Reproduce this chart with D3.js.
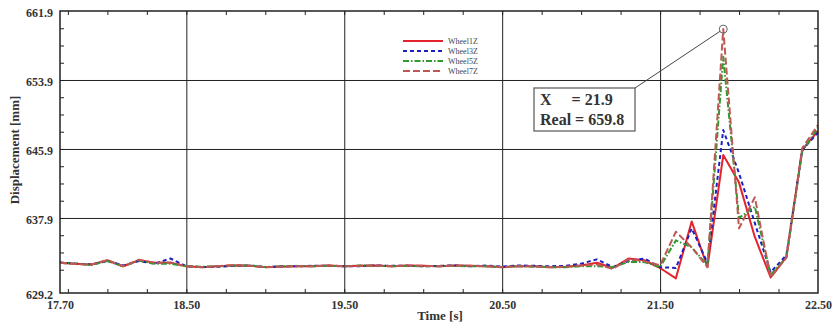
<!DOCTYPE html>
<html><head><meta charset="utf-8">
<script src="https://cdn.jsdelivr.net/npm/d3@7"></script>
<style>
html,body{margin:0;padding:0;background:#fff;}
svg{display:block;}
text{font-family:"Liberation Serif","Times New Roman",serif;}
</style></head>
<body>
<svg id="chart" width="833" height="324"></svg>
<script>
// ---- data ----
const time = [17.7,17.8,17.9,18.0,18.1,18.2,18.3,18.4,18.5,18.6,18.7,18.8,18.9,19.0,19.1,19.2,19.3,19.4,19.5,19.6,19.7,19.8,19.9,20.0,20.1,20.2,20.3,20.4,20.5,20.6,20.7,20.8,20.9,21.0,21.1,21.2,21.3,21.4,21.5,21.6,21.7,21.8,21.9,22.0,22.1,22.2,22.3,22.4,22.5];
const wheel1Z = [632.7,632.6,632.5,633.0,632.3,633.0,632.7,632.7,632.3,632.2,632.3,632.4,632.35,632.2,632.25,632.3,632.3,632.4,632.3,632.35,632.4,632.3,632.4,632.35,632.3,632.4,632.35,632.3,632.2,632.3,632.3,632.2,632.25,632.4,632.7,632.1,633.2,633.0,632.1,630.9,637.5,632.2,645.2,642.0,635.7,631.0,633.4,645.8,648.0];
const wheel3Z = [632.75,632.6,632.5,632.9,632.4,632.9,632.6,633.2,632.3,632.2,632.25,632.35,632.4,632.2,632.3,632.3,632.35,632.35,632.3,632.3,632.4,632.35,632.35,632.3,632.35,632.4,632.3,632.4,632.25,632.4,632.35,632.3,632.35,632.6,633.1,632.2,632.9,633.2,632.2,632.1,636.7,632.7,648.1,643.1,637.3,631.6,633.6,645.8,647.8];
const wheel5Z = [632.7,632.6,632.45,632.9,632.3,632.95,632.6,632.6,632.3,632.25,632.3,632.4,632.4,632.2,632.3,632.35,632.3,632.35,632.3,632.4,632.35,632.3,632.35,632.3,632.3,632.35,632.3,632.3,632.2,632.3,632.25,632.2,632.2,632.3,632.3,632.2,632.8,632.8,632.2,635.3,634.5,632.4,656.6,637.9,639.2,631.3,633.3,645.6,648.4];
const wheel7Z = [632.7,632.55,632.5,633.0,632.3,633.05,632.7,632.75,632.3,632.2,632.3,632.45,632.35,632.2,632.25,632.3,632.3,632.4,632.3,632.35,632.4,632.3,632.4,632.35,632.3,632.4,632.35,632.3,632.2,632.3,632.3,632.2,632.25,632.4,632.5,632.0,633.1,632.9,632.4,636.3,634.5,632.2,659.8,636.7,640.3,631.0,633.3,646.0,648.7];
const seriesNames = ["Wheel1Z","Wheel3Z","Wheel5Z","Wheel7Z"];
const xLabelTicks = [17.70,18.50,19.50,20.50,21.50,22.50];
const xGridTicks = [18.5,19.5,20.5,21.5];
const xMinorTicks = [17.75,18.0,18.25,18.5,18.75,19.0,19.25,19.5,19.75,20.0,20.25,20.5,20.75,21.0,21.25,21.5,21.75,22.0,22.25];
const yLabelTicks = [629.2,637.9,645.9,653.9,661.9];
const yGridTicks = [637.9,645.9,653.9];
const yMinorTicks = [631.9,633.9,635.9,637.9,639.9,641.9,643.9,645.9,647.9,649.9,651.9,653.9,655.9,657.9,659.9];
const tipX = 21.9, tipReal = 659.8;

// ---- styles ----
const styles = [
  {color:"#e3242b", dash:null, w:2},
  {color:"#1f1fbf", dash:"4,3", w:2},
  {color:"#2f9a2f", dash:"6,2,1.5,2", w:2},
  {color:"#bf5855", dash:"7,3", w:2}
];
const seriesData = [wheel1Z, wheel3Z, wheel5Z, wheel7Z];

const L=60, R=818, T=11, B=293;
const svg = d3.select("#chart");
const x = d3.scaleLinear().domain([17.7,22.5]).range([L,R]);
const y = d3.scaleLinear().domain([629.2,661.9]).range([B,T]);

// grid
svg.append("g").attr("transform",`translate(0,${B})`)
  .call(d3.axisBottom(x).tickValues(xGridTicks).tickSize(-(B-T)).tickFormat(""))
  .call(g=>{g.select(".domain").remove(); g.selectAll("line").attr("stroke","#222").attr("stroke-width",1);});
svg.append("g").attr("transform",`translate(${L},0)`)
  .call(d3.axisLeft(y).tickValues(yGridTicks).tickSize(-(R-L)).tickFormat(""))
  .call(g=>{g.select(".domain").remove(); g.selectAll("line").attr("stroke","#222").attr("stroke-width",1);});

// minor ticks (inward, all sides)
function styleTicks(g){g.select(".domain").remove(); g.selectAll("line").attr("stroke","#222").attr("stroke-width",1);}
svg.append("g").attr("transform",`translate(0,${B})`).call(d3.axisBottom(x).tickValues(xMinorTicks).tickSize(-4).tickFormat("")).call(styleTicks);
svg.append("g").attr("transform",`translate(0,${T})`).call(d3.axisTop(x).tickValues(xMinorTicks).tickSize(-4).tickFormat("")).call(styleTicks);
svg.append("g").attr("transform",`translate(${L},0)`).call(d3.axisLeft(y).tickValues(yMinorTicks).tickSize(-4).tickFormat("")).call(styleTicks);
svg.append("g").attr("transform",`translate(${R},0)`).call(d3.axisRight(y).tickValues(yMinorTicks).tickSize(-4).tickFormat("")).call(styleTicks);

// lines
const line = d3.line().x((d,i)=>x(time[i])).y(d=>y(d));
seriesData.forEach((s,k)=>{
  svg.append("path").datum(s).attr("d",line).attr("fill","none")
    .attr("stroke",styles[k].color).attr("stroke-width",styles[k].w)
    .attr("stroke-dasharray",styles[k].dash).attr("stroke-linejoin","round");
});

// box
svg.append("rect").attr("x",L).attr("y",T).attr("width",R-L).attr("height",B-T)
  .attr("fill","none").attr("stroke","#222").attr("stroke-width",1.5);

// tick labels
const xl = svg.append("g").attr("transform",`translate(0,${B})`)
  .call(d3.axisBottom(x).tickValues(xLabelTicks).tickSize(0).tickPadding(7).tickFormat(d3.format(".2f")));
xl.select(".domain").remove();
xl.selectAll("text").attr("font-family","Liberation Serif, serif").attr("font-size",12).attr("font-weight","bold").attr("fill","#333");
const yl = svg.append("g").attr("transform",`translate(${L},0)`)
  .call(d3.axisLeft(y).tickValues(yLabelTicks).tickSize(0).tickPadding(7).tickFormat(d3.format(".1f")));
yl.select(".domain").remove();
yl.selectAll("text").attr("font-family","Liberation Serif, serif").attr("font-size",12).attr("font-weight","bold").attr("fill","#333").attr("dy","0.45em");

// axis titles
svg.append("text").attr("x",440).attr("y",320).attr("text-anchor","middle")
  .attr("font-size",13).attr("font-weight","bold").attr("fill","#333").text("Time [s]");
svg.append("text").attr("transform","translate(19,150) rotate(-90)").attr("text-anchor","middle")
  .attr("font-size",13).attr("font-weight","bold").attr("fill","#333").text("Displacement [mm]");

// legend
const lg = svg.append("g");
seriesNames.forEach((n,k)=>{
  const yy = 41 + k*10;
  lg.append("line").attr("x1",403).attr("x2",443).attr("y1",yy).attr("y2",yy)
    .attr("stroke",styles[k].color).attr("stroke-width",2).attr("stroke-dasharray",styles[k].dash);
  lg.append("text").attr("x",448).attr("y",yy+2.5).attr("font-size",8).attr("fill","#444").text(n);
});

// data tip
const px = x(tipX), py = y(tipReal);
const bx=534, by=88, bw=101, bh=43;
svg.append("line").attr("x1",bx+bw).attr("y1",by).attr("x2",px-3).attr("y2",py+2)
  .attr("stroke","#444").attr("stroke-width",1);
svg.append("circle").attr("cx",px).attr("cy",py).attr("r",4).attr("fill","none").attr("stroke","#666").attr("stroke-width",1);
svg.append("rect").attr("x",bx).attr("y",by).attr("width",bw).attr("height",bh)
  .attr("fill","#fff").attr("stroke","#555").attr("stroke-width",1.2);
svg.append("text").attr("x",540).attr("y",105).attr("font-size",16).attr("font-weight","bold").attr("fill","#333")
  .attr("xml:space","preserve").style("white-space","pre").text("X     = " + tipX.toFixed(1));
svg.append("text").attr("x",540).attr("y",125).attr("font-size",16).attr("font-weight","bold").attr("fill","#333")
  .text("Real = " + tipReal.toFixed(1));
</script>
</body></html>
